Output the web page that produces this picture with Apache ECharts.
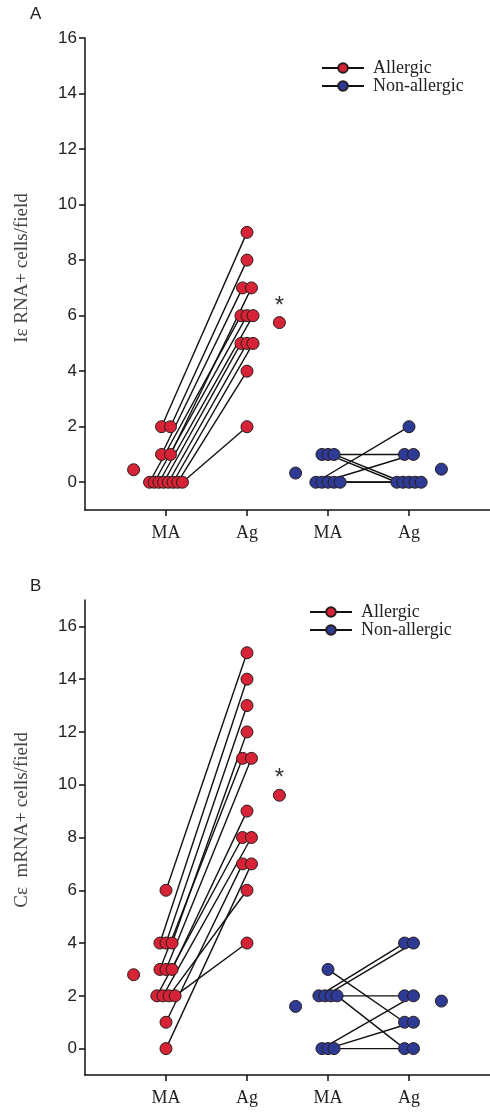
<!DOCTYPE html>
<html>
<head>
<meta charset="utf-8">
<script src="https://cdn.jsdelivr.net/npm/echarts@6/dist/echarts.min.js"></script>
<style>html,body{margin:0;padding:0;background:#fff}#c{width:490px;height:1113px}</style>
</head>
<body>
<div id="c"></div>
<script>
// ---- data ----
const categories = ['MA', 'Ag', 'MA', 'Ag'];
const yTickValues = [0, 2, 4, 6, 8, 10, 12, 14, 16];
const groups = ['Allergic', 'Non-allergic'];

// Panel A: Iε RNA+ cells/field (paired: MA -> Ag per subject)
const aAllergicMA = [2, 2, 1, 1, 0, 0, 0, 0, 0, 0, 0, 0];
const aAllergicAg = [9, 8, 7, 7, 6, 6, 6, 5, 5, 5, 4, 2];
const aNonAllergicMA = [1, 1, 1, 0, 0, 0, 0, 0];
const aNonAllergicAg = [1, 0, 0, 2, 1, 0, 0, 0];
const aMeans = [0.45, 5.75, 0.33, 0.47]; // Allergic MA, Allergic Ag, Non MA, Non Ag

// Panel B: Cε mRNA+ cells/field
const bAllergicMA = [6, 4, 4, 4, 3, 3, 3, 2, 2, 2, 2, 1, 0];
const bAllergicAg = [15, 14, 13, 12, 11, 11, 9, 8, 8, 6, 4, 7, 7];
const bNonAllergicMA = [3, 2, 2, 2, 2, 0, 0, 0];
const bNonAllergicAg = [1, 4, 4, 2, 0, 2, 1, 0];
const bMeans = [2.8, 9.6, 1.6, 1.8];

// ---- styles ----
const RED = '#d62336';
const BLUE = '#2d3b94';
const EDGE = '#2a1c1c';
const SERIF = '"Liberation Serif", "DejaVu Serif", serif';
const SANS = '"Liberation Sans", Arial, sans-serif';

// spread identical values side by side around the category position
function dodge(vals, center) {
  const counts = {}, seen = {};
  vals.forEach(v => counts[v] = (counts[v] || 0) + 1);
  return vals.map(v => {
    const n = counts[v];
    const k = seen[v] = (seen[v] === undefined ? 0 : seen[v] + 1);
    const step = n >= 6 ? 0.058 : (n >= 3 ? 0.075 : 0.11);
    return center + (k - (n - 1) / 2) * step;
  });
}

function panelSeries(gi, groupName, color, maVals, agVals, maPos, agPos, meanMA, meanAg) {
  const xs1 = dodge(maVals, maPos), xs2 = dodge(agVals, agPos);
  const out = [];
  maVals.forEach((v, i) => {
    out.push({
      type: 'line', name: groupName, xAxisIndex: gi, yAxisIndex: gi,
      data: [[xs1[i], v], [xs2[i], agVals[i]]],
      symbol: 'circle', showSymbol: false, silent: true, animation: false,
      lineStyle: { color: '#111', width: 1.4 },
      itemStyle: { color: color, borderColor: EDGE, borderWidth: 1 },
      z: 2
    });
  });
  const pts = maVals.map((v, i) => [xs1[i], v]).concat(agVals.map((v, i) => [xs2[i], v]));
  out.push({
    type: 'scatter', name: groupName, xAxisIndex: gi, yAxisIndex: gi, data: pts,
    symbolSize: 12, animation: false,
    itemStyle: { color: color, borderColor: EDGE, borderWidth: 1, opacity: 1 }, z: 3
  });
  out.push({
    type: 'scatter', name: groupName, xAxisIndex: gi, yAxisIndex: gi,
    data: [
      { value: [maPos - 0.4, meanMA] },
      { value: [agPos + 0.4, meanAg], label: groupName === 'Allergic' ? { show: true, position: 'top', formatter: '*', fontSize: 24, color: '#333', distance: -2, fontFamily: SANS } : { show: false } }
    ],
    symbolSize: 12, animation: false,
    itemStyle: { color: color, borderColor: EDGE, borderWidth: 1, opacity: 1 }, z: 3
  });
  return out;
}

const grids = [
  { left: 85, right: 0, top: 38, height: 472 },
  { left: 85, right: 0, top: 600, height: 475 }
];
const yRanges = [[-1, 16], [-1, 17]];

const xAxes = grids.map((g, i) => ({
  type: 'value', gridIndex: i, min: 0, max: 5,
  splitLine: { show: false },
  axisLine: { show: true, onZero: false, lineStyle: { color: '#111', width: 1.5 } },
  axisTick: { show: true, customValues: [1, 2, 3, 4], length: 6, lineStyle: { color: '#111', width: 1.5 } },
  axisLabel: { customValues: [1, 2, 3, 4], formatter: v => categories[Math.round(v) - 1], fontFamily: SERIF, fontSize: 18, color: '#222', margin: 14 }
}));
const yAxes = grids.map((g, i) => ({
  type: 'value', gridIndex: i, min: yRanges[i][0], max: yRanges[i][1],
  splitLine: { show: false },
  axisLine: { show: true, onZero: false, lineStyle: { color: '#111', width: 1.5 } },
  axisTick: { show: true, customValues: yTickValues, length: 6, lineStyle: { color: '#111', width: 1.5 } },
  axisLabel: { customValues: yTickValues, fontFamily: SANS, fontSize: 17, color: '#222', margin: 8 }
}));

let series = [];
series = series.concat(panelSeries(0, 'Allergic', RED, aAllergicMA, aAllergicAg, 1, 2, aMeans[0], aMeans[1]));
series = series.concat(panelSeries(0, 'Non-allergic', BLUE, aNonAllergicMA, aNonAllergicAg, 3, 4, aMeans[2], aMeans[3]));
series = series.concat(panelSeries(1, 'Allergic', RED, bAllergicMA, bAllergicAg, 1, 2, bMeans[0], bMeans[1]));
series = series.concat(panelSeries(1, 'Non-allergic', BLUE, bNonAllergicMA, bNonAllergicAg, 3, 4, bMeans[2], bMeans[3]));

const legendBase = {
  data: groups, orient: 'vertical', itemWidth: 42, itemHeight: 12, itemGap: 0,
  selectedMode: false,
  textStyle: { fontFamily: SERIF, fontSize: 18, color: '#222', lineHeight: 18, padding: [0, 0, 0, 4] }
};

const chart = echarts.init(document.getElementById('c'), null, { renderer: 'canvas' });
chart.setOption({
  backgroundColor: '#fff',
  animation: false,
  grid: grids,
  xAxis: xAxes,
  yAxis: yAxes,
  legend: [
    Object.assign({}, legendBase, { left: 316, top: 54 }),
    Object.assign({}, legendBase, { left: 304, top: 598 })
  ],
  graphic: [
    { type: 'text', left: 30, top: 6, style: { text: 'A', font: '17px ' + SANS, fill: '#222' } },
    { type: 'text', left: 30, top: 578, style: { text: 'B', font: '17px ' + SANS, fill: '#222' } },
    { type: 'text', x: 22, y: 268, rotation: Math.PI / 2, style: { text: 'Iε RNA+ cells/field', font: '19px ' + SERIF, fill: '#444', align: 'center', verticalAlign: 'middle' } },
    { type: 'text', x: 22, y: 820, rotation: Math.PI / 2, style: { text: 'Cε  mRNA+ cells/field', font: '19px ' + SERIF, fill: '#444', align: 'center', verticalAlign: 'middle' } }
  ],
  series: series
});
</script>
</body>
</html>
